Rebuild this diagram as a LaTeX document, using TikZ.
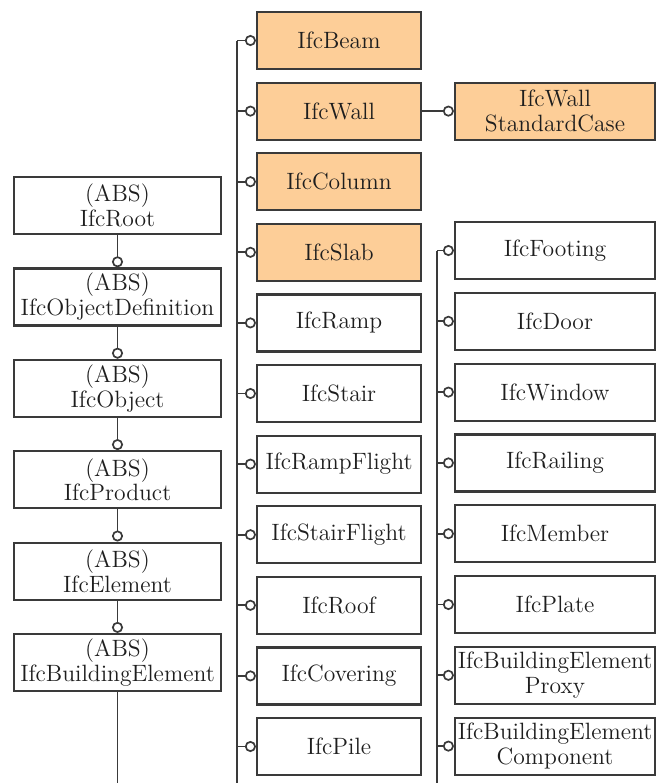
\documentclass[tikz,border=0pt]{standalone}
\usetikzlibrary{arrows.meta}
\definecolor{edgegray}{RGB}{58,58,58}
\definecolor{textgray}{RGB}{30,30,30}
\definecolor{ifcorange}{RGB}{253,206,152}
\begin{document}
\begin{tikzpicture}[x=0.5pt,y=-0.5pt,
  box/.style={draw=edgegray,line width=1.1pt,rectangle,inner sep=0pt,
    text=textgray,align=center,font=\fontsize{11.8}{12.4}\selectfont,
    minimum height=28.5pt},
  leftbox/.style={box,minimum width=103.5pt},
  midbox/.style={box,minimum width=82pt},
  rightbox/.style={box,minimum width=100pt},
  hl/.style={fill=ifcorange},
  link/.style={draw=edgegray,line width=0.85pt,
    -{Circle[open,length=5.5pt,width=5.5pt,fill=white,line width=0.85pt]}},
  plain/.style={draw=edgegray,line width=0.85pt}]
\useasboundingbox (0,0) rectangle (657,783);

% abstract supertypes
\node[leftbox] (root)   at (117.5,205.5) {(ABS)\\IfcRoot};
\node[leftbox] (objdef) at (117.5,296.9) {(ABS)\\IfcObjectDefinition};
\node[leftbox] (obj)    at (117.5,388.3) {(ABS)\\IfcObject};
\node[leftbox] (prod)   at (117.5,479.7) {(ABS)\\IfcProduct};
\node[leftbox] (elem)   at (117.5,571.1) {(ABS)\\IfcElement};
\node[leftbox] (bldg)   at (117.5,662.5) {(ABS)\\IfcBuildingElement};

\draw[link] (root.south) -- (objdef.north);
\draw[link] (objdef.south) -- (obj.north);
\draw[link] (obj.south) -- (prod.north);
\draw[link] (prod.south) -- (elem.north);
\draw[link] (elem.south) -- (bldg.north);
\coordinate (lbot) at (117.5,783);
\draw[plain] (bldg.south) -- (lbot);

% first column of building elements
\node[midbox,hl] (beam)   at (339,40.5)  {IfcBeam};
\node[midbox,hl] (wall)   at (339,111.1) {IfcWall};
\node[midbox,hl] (column) at (339,181.7) {IfcColumn};
\node[midbox,hl] (slab)   at (339,252.3) {IfcSlab};
\node[midbox] (ramp)      at (339,322.9) {IfcRamp};
\node[midbox] (stair)     at (339,393.5) {IfcStair};
\node[midbox] (rampfl)    at (339,464.1) {IfcRampFlight};
\node[midbox] (stairfl)   at (339,534.7) {IfcStairFlight};
\node[midbox] (roof)      at (339,605.3) {IfcRoof};
\node[midbox] (covering)  at (339,675.9) {IfcCovering};
\node[midbox] (pile)      at (339,746.5) {IfcPile};

\node[rightbox,hl] (wsc) at (555,111.1) {IfcWall\\StandardCase};
\draw[link] (wall.east) -- (wsc.west);

\coordinate (mtop) at (237,40.5);
\coordinate (mbot) at (237,783);
\draw[plain] (mtop) -- (mbot);
\foreach \n in {beam,wall,column,slab,ramp,stair,rampfl,stairfl,roof,covering,pile}
  \draw[link] (mtop |- \n.west) -- (\n.west);

% second column of building elements
\node[rightbox] (footing) at (555,250.5) {IfcFooting};
\node[rightbox] (door)    at (555,321.3) {IfcDoor};
\node[rightbox] (window)  at (555,392.1) {IfcWindow};
\node[rightbox] (railing) at (555,462.9) {IfcRailing};
\node[rightbox] (member)  at (555,533.7) {IfcMember};
\node[rightbox] (plate)   at (555,604.5) {IfcPlate};
\node[rightbox] (proxy)   at (555,675.3) {IfcBuildingElement\\Proxy};
\node[rightbox] (comp)    at (555,746.1) {IfcBuildingElement\\Component};

\coordinate (rtop) at (437,250.5);
\coordinate (rbot) at (437,783);
\draw[plain] (rtop) -- (rbot);
\foreach \n in {footing,door,window,railing,member,plate,proxy,comp}
  \draw[link] (rtop |- \n.west) -- (\n.west);
\end{tikzpicture}
\end{document}
